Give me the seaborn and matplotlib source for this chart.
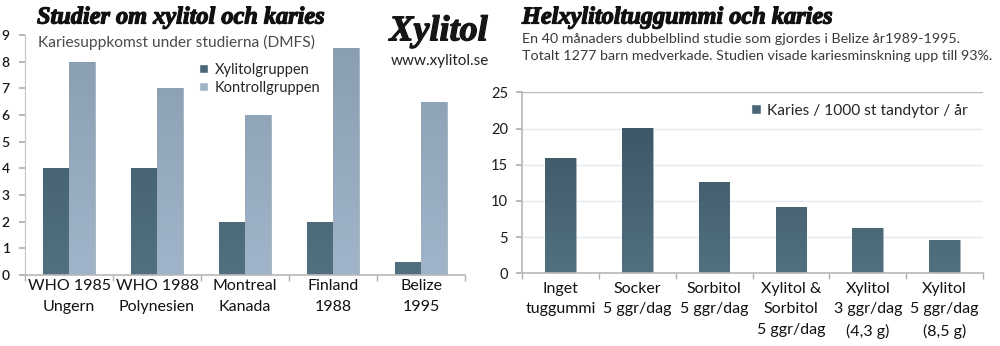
import numpy as np
import pandas as pd
import matplotlib
matplotlib.use("Agg")
import matplotlib.pyplot as plt
import matplotlib.patheffects as pe
from matplotlib.colors import LinearSegmentedColormap, Normalize
from matplotlib.patches import Patch
import seaborn as sns

# Study comparison (DMFS increment)
studies = ["WHO 1985\nUngern", "WHO 1988\nPolynesien", "Montreal\nKanada",
           "Finland\n1988", "Belize\n1995"]
xylitol_group = [4, 4, 2, 2, 0.5]
control_group = [8, 7, 6, 8.5, 6.5]
group_names = ["Xylitolgruppen", "Kontrollgruppen"]

# Belize chewing-gum study
gum_types = ["Inget\ntuggummi", "Socker\n5 ggr/dag", "Sorbitol\n5 ggr/dag",
             "Xylitol &\nSorbitol\n5 ggr/dag", "Xylitol\n3 ggr/dag\n(4,3 g)",
             "Xylitol\n5 ggr/dag\n(8,5 g)"]
caries_rate = [15.9, 20.1, 12.6, 9.1, 6.2, 4.6]
caries_label = "Karies / 1000 st tandytor / år"

sns.set_theme(style="white")
plt.rcParams["font.family"] = ["Lato", "DejaVu Sans"]

DARK_TOP, DARK_BOT = "#3c5665", "#52707f"
LIGHT_TOP, LIGHT_BOT = "#889db0", "#a0b5c9"
TITLE_FONT = dict(family="Liberation Serif", weight="bold", style="italic",
                  path_effects=[pe.withStroke(linewidth=0.9, foreground="#111111")])


def shade_bars(ax, patches, top_c, bot_c, vmax):
    """Fill each bar with a vertical gradient tied to the y scale."""
    cmap = LinearSegmentedColormap.from_list("bar", [bot_c, top_c])
    xl, yl = ax.get_xlim(), ax.get_ylim()
    for p in patches:
        x0, y0 = p.get_x(), p.get_y()
        w, h = p.get_width(), p.get_height()
        ys = np.linspace(y0, y0 + h, 200).reshape(-1, 1)
        im = ax.imshow(ys, extent=[x0, x0 + w, y0, y0 + h], origin="lower",
                       cmap=cmap, norm=Normalize(0, vmax), aspect="auto",
                       zorder=p.get_zorder() + 0.1, interpolation="bilinear")
        im.set_clip_path(p)
    ax.set_xlim(xl)
    ax.set_ylim(yl)


fig = plt.figure(figsize=(10, 3.46), dpi=100)

# ---------------- left chart ----------------
axL = fig.add_axes([0.025, 0.2052, 0.44, 0.6936])
dfL = pd.DataFrame({
    "studie": studies * 2,
    "grupp": [group_names[0]] * len(studies) + [group_names[1]] * len(studies),
    "varde": xylitol_group + control_group,
})
sns.barplot(data=dfL, x="studie", y="varde", hue="grupp",
            palette=[DARK_BOT, LIGHT_BOT], width=0.58, gap=0,
            edgecolor="#aab6c0", linewidth=0.7, ax=axL, legend=False)
axL.set_xlim(-0.5, len(studies) - 0.5)
axL.set_ylim(0, 9)
n = len(studies)
bars = [p for p in axL.patches]
shade_bars(axL, bars[:n], DARK_TOP, DARK_BOT, 9)
shade_bars(axL, bars[n:], LIGHT_TOP, LIGHT_BOT, 9)
axL.set_yticks(range(0, 10))
axL.set_xlabel("")
axL.set_ylabel("")
for s in ["top", "right"]:
    axL.spines[s].set_visible(False)
axL.spines["left"].set_color("#c8c8c8")
axL.spines["bottom"].set_color("#b8b8b8")
axL.spines["left"].set_linewidth(0.9)
axL.spines["bottom"].set_linewidth(1.2)
axL.tick_params(axis="y", which="major", length=4, color="#b0b0b0",
                labelsize=10, labelcolor="#1a1a1a", pad=7, left=True)
axL.tick_params(axis="x", which="major", length=0, labelsize=11.5,
                labelcolor="#111111", pad=3)
axL.set_xticks(np.arange(-0.5, n, 1.0), minor=True)
axL.tick_params(axis="x", which="minor", length=4, color="#b0b0b0", bottom=True)
for t in axL.get_yticklabels():
    t.set_fontweight("semibold")
for t in axL.get_xticklabels():
    t.set_linespacing(1.6)

axL.legend(handles=[Patch(facecolor="#4a6678"), Patch(facecolor="#9fb3c5")],
           labels=group_names, loc="upper left",
           bbox_to_anchor=(0.199, 1 - 63 / 346), bbox_transform=fig.transFigure,
           frameon=False, fontsize=10.5, handlelength=0.6, handleheight=0.6,
           handletextpad=0.5, labelspacing=0.25, borderaxespad=0, borderpad=0)

fig.text(0.037, 0.948, "Studier om xylitol och karies", fontsize=17.5,
         color="#111111", va="center", ha="left", **TITLE_FONT)
fig.text(0.038, 0.876, "Kariesuppkomst under studierna (DMFS)", fontsize=11.2,
         color="#4a4a4a", va="center", ha="left")

# logo
fig.text(0.4385, 0.908, "Xylitol", fontsize=26, color="#161616",
         va="center", ha="center", **TITLE_FONT)
fig.text(0.4395, 0.823, "www.xylitol.se", fontsize=11, color="#222222",
         va="center", ha="center")

# ---------------- right chart ----------------
axR = fig.add_axes([0.522, 0.2100, 0.461, 0.5231])
dfR = pd.DataFrame({"typ": gum_types, "karies": caries_rate})
sns.barplot(data=dfR, x="typ", y="karies", color=DARK_BOT, width=0.4,
            edgecolor="#a9b5bf", linewidth=0.7, ax=axR)
m = len(gum_types)
axR.set_xlim(-0.5, m - 0.5)
axR.set_ylim(0, 25)
shade_bars(axR, list(axR.patches), DARK_TOP, DARK_BOT, 21)
axR.set_yticks(range(0, 26, 5))
for yv in range(5, 25, 5):
    axR.axhline(yv, color="#e3e9f1", linewidth=1.0, zorder=0)
axR.axhline(25, color="#bcbcbc", linewidth=1.0, zorder=0)
axR.set_xlabel("")
axR.set_ylabel("")
for s in ["top", "right"]:
    axR.spines[s].set_visible(False)
axR.spines["left"].set_color("#b8b8b8")
axR.spines["bottom"].set_color("#b8b8b8")
axR.spines["bottom"].set_linewidth(1.2)
axR.tick_params(axis="y", which="major", length=4, color="#b0b0b0",
                labelsize=10.5, labelcolor="#1a1a1a", pad=6, left=True)
axR.tick_params(axis="x", which="major", length=0, labelsize=11.5,
                labelcolor="#111111", pad=6)
axR.set_xticks(np.arange(-0.5, m, 1.0), minor=True)
axR.tick_params(axis="x", which="minor", length=4, color="#b0b0b0", bottom=True)
for t in axR.get_xticklabels():
    t.set_linespacing(1.6)
    t.set_verticalalignment("top")

axR.legend(handles=[Patch(facecolor="#4a6678")], labels=[caries_label],
           loc="center left", bbox_to_anchor=(0.745, 0.68, 0.2, 0.0),
           bbox_transform=fig.transFigure, frameon=False, fontsize=11.2,
           handlelength=0.6, handleheight=0.6, handletextpad=0.4,
           borderaxespad=0)

fig.text(0.522, 0.948, "Helxylitoltuggummi och karies", fontsize=17.5,
         color="#111111", va="center", ha="left", **TITLE_FONT)
fig.text(0.522, 0.862,
         "En 40 månaders dubbelblind studie som gjordes i Belize år1989-1995.\n"
         "Totalt 1277 barn medverkade. Studien visade kariesminskning upp till 93%.",
         fontsize=10.3, color="#3a3a3a", va="center", ha="left",
         linespacing=1.45)

fig.savefig("out.png", dpi=100, facecolor="white")
